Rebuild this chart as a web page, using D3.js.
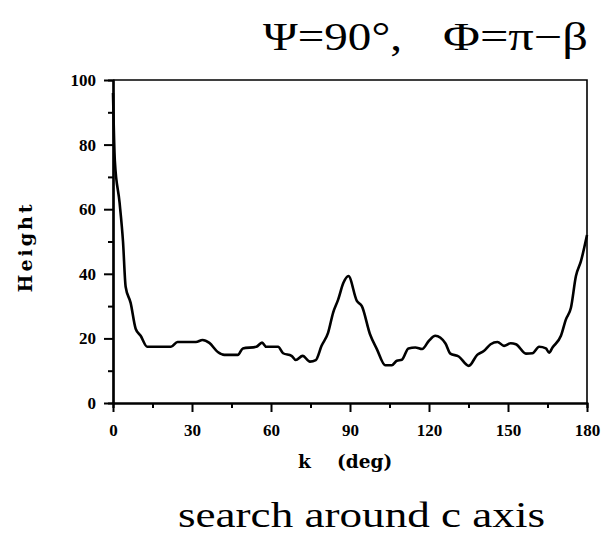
<!DOCTYPE html>
<html>
<head>
<meta charset="utf-8">
<script src="https://cdn.jsdelivr.net/npm/d3@7"></script>
<style>
  body { margin: 0; background: #fff; }
</style>
</head>
<body>
<div id="chart"></div>
<script>
// curve: k (deg) vs height
const kDeg = [0, 0.7, 2.5, 3.8, 4.8, 6.7, 8.6, 10.5, 13, 17.5, 22, 24.5, 31.5, 34, 36.6,
  39.8, 42.3, 47.4, 49.3, 54.4, 56.6, 58.2, 62.7, 64.6, 67.8, 69.4, 72, 74.8, 77,
  79.2, 81.7, 83.6, 85.5, 87.5, 89.4, 92.6, 94.5, 97.6, 100.2, 103.4, 105.9, 107.8,
  109.7, 112.2, 114.8, 117.4, 119.9, 122.4, 126.2, 128.1, 131.3, 135.1, 138.3, 140.8,
  143.4, 146, 148.5, 151, 153, 156.8, 159.3, 161.8, 164.4, 165.6, 166.9, 170.1, 172,
  173.9, 175.8, 177.7, 180];
const height = [96, 75, 62, 50, 36, 31, 23, 20.8, 17.4, 17.4, 17.4, 18.9, 18.9, 19.5, 18.6,
  15.8, 14.9, 14.9, 16.9, 17.4, 18.7, 17.4, 17.4, 15.4, 14.6, 13.3, 14.6, 12.8, 13.3,
  17.7, 21.8, 28, 32, 37.2, 39.3, 31.6, 30, 21.3, 16.7, 11.7, 11.7, 13.1,
  13.4, 16.9, 17.2, 16.7, 19.2, 20.8, 18.5, 15.3, 14.4, 11.5, 14.9, 16.1,
  18.2, 18.9, 17.7, 18.5, 18.2, 15.3, 15.4, 17.4, 16.9, 15.6, 17.2, 20.8, 25.9,
  29.5, 39.3, 43.9, 52];

const xMajor = [0, 30, 60, 90, 120, 150, 180];
const xMinor = [15, 45, 75, 105, 135, 165];
const yMajor = [0, 20, 40, 60, 80, 100];
const yMinor = [10, 30, 50, 70, 90];

const W = 605, H = 536;
const mLeft = 113, mRight = 587, mTop = 80, mBottom = 403;

const serif = "Liberation Serif";
const slab = "DejaVu Serif";

const svg = d3.select("#chart").append("svg")
    .attr("width", W)
    .attr("height", H);

const x = d3.scaleLinear().domain([0, 180]).range([mLeft, mRight]);
const y = d3.scaleLinear().domain([0, 100]).range([mBottom, mTop]);

// frame (top + right)
svg.append("path")
    .attr("d", `M${mLeft},${mTop}H${mRight}V${mBottom}`)
    .attr("fill", "none")
    .attr("stroke", "#000")
    .attr("stroke-width", 1.6);

// axes
const styleAxis = g => {
    g.select(".domain").attr("stroke-width", 2.2);
    g.selectAll(".tick line").attr("stroke-width", 2);
    g.selectAll(".tick text")
        .attr("font-family", serif)
        .attr("font-weight", "bold")
        .attr("font-size", 17);
};

svg.append("g")
    .attr("transform", `translate(0,${mBottom})`)
    .call(d3.axisBottom(x).tickValues(xMinor).tickSize(5).tickFormat(""))
    .call(styleAxis);

svg.append("g")
    .attr("transform", `translate(0,${mBottom})`)
    .call(d3.axisBottom(x).tickValues(xMajor).tickSize(9).tickPadding(12).tickSizeOuter(0))
    .call(styleAxis);

svg.append("g")
    .attr("transform", `translate(${mLeft},0)`)
    .call(d3.axisLeft(y).tickValues(yMinor).tickSize(5).tickFormat(""))
    .call(styleAxis);

svg.append("g")
    .attr("transform", `translate(${mLeft},0)`)
    .call(d3.axisLeft(y).tickValues(yMajor).tickSize(9).tickPadding(8).tickSizeOuter(0))
    .call(styleAxis);

// curve
const pts = kDeg.map((k, i) => [k, height[i]]);
const line = d3.line()
    .x(d => x(d[0]))
    .y(d => y(d[1]))
    .curve(d3.curveMonotoneX);

svg.append("path")
    .datum(pts)
    .attr("d", line)
    .attr("fill", "none")
    .attr("stroke", "#000")
    .attr("stroke-width", 2.6)
    .attr("stroke-linejoin", "round");

// title, two pieces (glyphs in the original are a bit wide)
svg.append("text")
    .attr("x", 263)
    .attr("y", 50)
    .attr("font-family", serif)
    .attr("font-size", 39)
    .attr("textLength", 139)
    .attr("lengthAdjust", "spacingAndGlyphs")
    .text("\u03A8=90\u00B0,");

svg.append("text")
    .attr("x", 443)
    .attr("y", 50)
    .attr("font-family", serif)
    .attr("font-size", 39)
    .attr("textLength", 145)
    .attr("lengthAdjust", "spacingAndGlyphs")
    .text("\u03A6=\u03C0\u2212\u03B2");

// axis titles
svg.append("text")
    .attr("transform", "translate(32,247) rotate(-90)")
    .attr("text-anchor", "middle")
    .attr("font-family", slab)
    .attr("font-size", 19)
    .attr("font-weight", "bold")
    .attr("letter-spacing", 3)
    .text("Height");

svg.append("text")
    .attr("x", 298)
    .attr("y", 468)
    .attr("font-family", slab)
    .attr("font-size", 18.5)
    .attr("font-weight", "bold")
    .text("k");

svg.append("text")
    .attr("x", 337)
    .attr("y", 468)
    .attr("font-family", slab)
    .attr("font-size", 18.5)
    .attr("font-weight", "bold")
    .text("(deg)");

// caption
svg.append("text")
    .attr("x", 178)
    .attr("y", 527)
    .attr("font-family", serif)
    .attr("font-size", 35)
    .attr("textLength", 367)
    .attr("lengthAdjust", "spacingAndGlyphs")
    .text("search around c axis");
</script>
</body>
</html>
